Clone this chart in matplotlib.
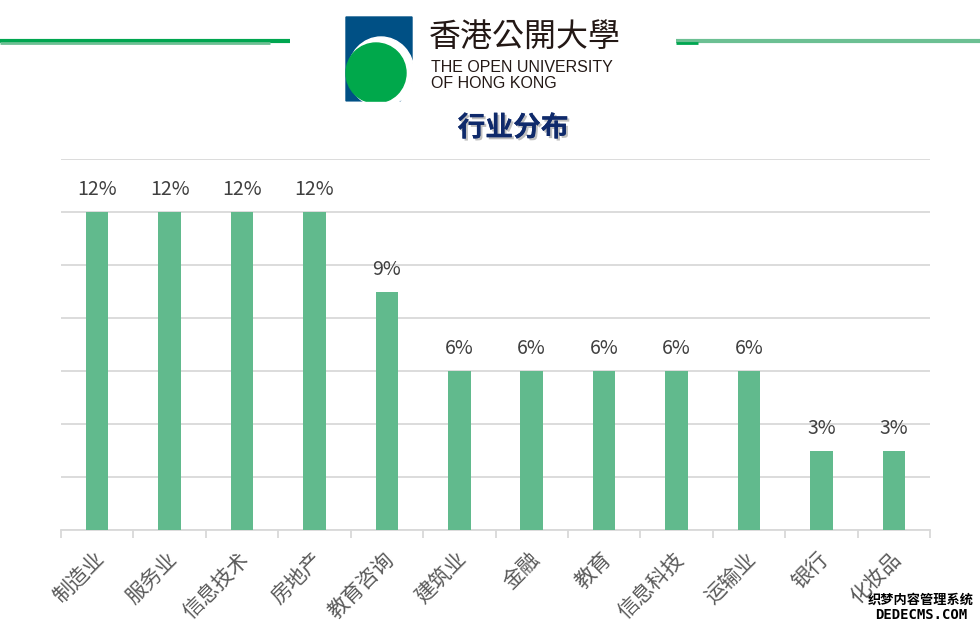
import matplotlib.pyplot as plt
import matplotlib.patheffects as pe
from matplotlib.patches import Ellipse, Polygon

plt.rcParams['font.family'] = ['Noto Sans CJK SC', 'DejaVu Sans']

industries = ['制造业', '服务业', '信息技术', '房地产', '教育咨询', '建筑业',
              '金融', '教育', '信息科技', '运输业', '银行', '化妆品']
shares = [12, 12, 12, 12, 9, 6, 6, 6, 6, 6, 3, 3]
y_ticks = [0, 2, 4, 6, 8, 10, 12, 14]

W, H = 980, 628
fig = plt.figure(figsize=(W / 100, H / 100), dpi=100)

# main bar chart
ax = fig.add_axes([61 / W, 1 - 530 / H, (930 - 61) / W, (530 - 159) / H])
x = range(len(industries))
ax.bar(x, shares, width=0.31, color='#61BA8D', zorder=3)
for i, v in enumerate(shares):
    ax.text(i, v + 0.45, f'{v}%', ha='center', va='bottom', fontsize=14, color='#404040')
ax.set_xlim(-0.5, len(industries) - 0.5)
ax.set_ylim(0, 14)
ax.set_yticks(y_ticks)
ax.yaxis.grid(True, color='#d9d9d9', linewidth=1.3, zorder=0)
ax.tick_params(axis='y', length=0, labelleft=False)
for s in ['top', 'right', 'left']:
    ax.spines[s].set_visible(False)
ax.spines['bottom'].set_color('#d9d9d9')
ax.spines['bottom'].set_linewidth(1.3)
ax.set_xticks([i - 0.5 for i in range(len(industries) + 1)], minor=False)
ax.set_xticklabels([])
ax.tick_params(axis='x', length=6, color='#d9d9d9', width=1.3)
ax.set_xticks([i - 0.05 for i in x], minor=True)
ax.set_xticklabels(industries, minor=True, rotation=45, ha='right', va='top',
                   rotation_mode='anchor', fontsize=15, color='#595959')
ax.tick_params(axis='x', which='minor', length=0, pad=13)

# header decorations in pixel coordinates
deco = fig.add_axes([0, 0, 1, 1], zorder=-1)
deco.set_xlim(0, W)
deco.set_ylim(H, 0)
deco.axis('off')
deco.plot([0, 290], [41, 41], color='#00A650', lw=3, solid_capstyle='butt')
deco.plot([0, 270], [43, 43], color='#6cc093', lw=2, solid_capstyle='butt')
deco.plot([676, 980], [41, 41], color='#6cc093', lw=3, solid_capstyle='butt')
deco.plot([676, 698], [43, 43], color='#00A650', lw=2, solid_capstyle='butt')

deco.add_patch(Polygon([[346, 17], [412, 17], [412, 80], [400, 101], [346, 101]],
                       closed=True, color='#005085'))
deco.add_patch(Ellipse((381, 72), 66, 70, color='white'))
deco.add_patch(Ellipse((376, 73), 60, 60, color='#00A84B'))
deco.add_patch(Polygon([[340, 102], [420, 102], [420, 112], [340, 112]], color='white'))

deco.text(429, 37, '香港公開大學', fontsize=23, color='#231815', va='center', ha='left',
          family=['Noto Sans CJK TC', 'DejaVu Sans'])
deco.text(431, 67, 'THE OPEN UNIVERSITY', fontsize=11.5, color='#231815', va='center',
          ha='left', family=['Liberation Sans', 'DejaVu Sans'])
deco.text(431, 84, 'OF HONG KONG', fontsize=11.5, color='#231815', va='center',
          ha='left', family=['Liberation Sans', 'DejaVu Sans'])

deco.text(513, 128, '行业分布', fontsize=20, color='#0f2a6b', weight='bold',
          ha='center', va='center',
          path_effects=[pe.withSimplePatchShadow(offset=(1.5, -1.5), shadow_rgbFace='#b0b0b0',
                                                 alpha=0.8), pe.Normal()])

deco.text(921, 600, '织梦内容管理系统', fontsize=9.5, color='black', ha='center', va='center',
          weight='bold')
deco.text(921, 615, 'DEDECMS.COM', fontsize=10, color='black', ha='center', va='center',
          family='DejaVu Sans Mono', weight='bold')

fig.savefig('out.png', dpi=100)
